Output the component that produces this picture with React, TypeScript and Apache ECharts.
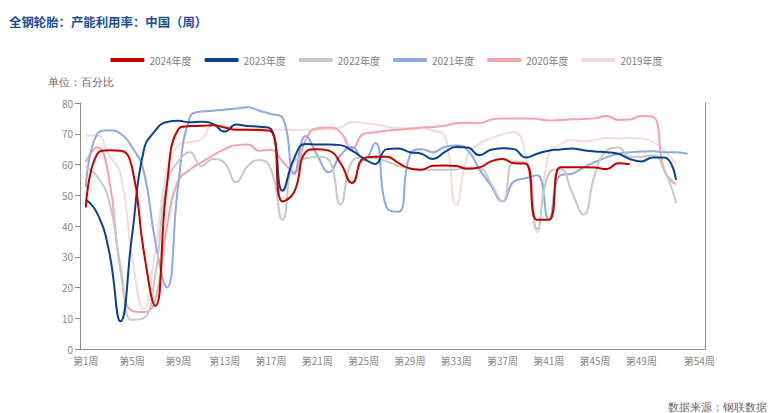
import React, { useEffect, useRef } from 'react';
import * as echarts from 'echarts';

const titleText = '全钢轮胎：产能利用率：中国（周）';
const unitText = '单位：百分比';
const sourceText = '数据来源：钢联数据';

const weeks: string[] = Array.from({ length: 54 }, (_, i) => `第${i + 1}周`);

const s2024 = [46, 63.5, 64.6, 64.5, 59, 32, 14, 53, 71.5, 72.5,
  72.6, 72.8, 72, 71.3, 71.3, 71.2, 70.8, 48, 51, 64,
  65, 64.5, 60.5, 54, 62, 62.5, 62.5, 60.5, 58.7, 58.3,
  59.6, 59.7, 59.5, 58.6, 59, 61, 61.8, 60.4, 60.3, 42,
  42, 59.1, 59.1, 59.1, 59, 58.5, 60.4, 60.1];

const s2023 = [48.6, 44, 32, 9, 37, 64.5, 71, 73.8, 74.2, 73.7,
  73.9, 73.2, 70.7, 73, 72.5, 72.3, 71.5, 51.5, 62, 66.7,
  66.5, 66.5, 66.3, 64.5, 62, 60.2, 65, 65.2, 64, 63.5,
  61.8, 64, 65.7, 65.5, 63, 64.8, 65.3, 65, 62.3, 63.5,
  64.5, 64.9, 65.2, 64.6, 64.2, 64, 63.5, 61.8, 61, 62.3,
  62.3, 55];

const s2022 = [59.2, 56, 48.3, 27, 9.5, 10, 24, 54, 61, 64,
  59.5, 61.8, 60.5, 54.3, 59.5, 61.5, 58.5, 42, 61, 62,
  62.5, 61.5, 47, 61, 62.3, 62, 61, 59.6, 58.7, 58.4,
  58.3, 58.3, 58.4, 59, 58.8, 54, 48, 61, 60.5, 39,
  57, 58.5, 51, 43.7, 57, 64.5, 65.5, 62.5, 62.5, 63,
  58, 47.5];

const s2021 = [52.6, 70, 71.1, 70, 65.6, 58, 35, 20, 53.7, 75.4,
  77.2, 77.5, 77.8, 78.2, 78.6, 77.5, 76.4, 75.2, 57, 69.3,
  63, 57.5, 63, 65.7, 61.3, 67, 46, 44.6, 63, 65,
  64, 65.7, 66.2, 64.6, 58.5, 53.2, 48, 54.5, 55.5, 56.5,
  42, 56.5, 57, 59, 60.8, 62.3, 63.5, 64, 64.2, 64.3,
  64, 64, 63.5];

const s2020 = [60.8, 65.6, 55.5, 25.6, 12.4, 12, 16, 39.5, 54.8, 58.3,
  60.8, 63, 65, 66.3, 66.5, 64.5, 64.8, 61, 57.5, 68,
  71.8, 72, 70.5, 65, 70, 70.5, 71, 71.3, 71.6, 72,
  72.2, 72.6, 73.4, 73.6, 73.4, 74.6, 75, 75, 75, 74.8,
  74.3, 74.5, 74.7, 74.8, 75, 75.8, 74.5, 74.6, 75.8, 75.5,
  58, 53.5];

const s2019 = [69.4, 69.4, 63, 57, 30, 13, 32, 58, 66.2, 67.3,
  68.2, 72.8, 72.3, 71.8, 71.5, 71.5, 71.4, 71.3, 71.3, 71.3,
  71.3, 71.5, 72, 73.8, 73.5, 73, 72.3, 71.8, 71.8, 71.8,
  71, 69.5, 46.7, 63, 66.8, 68.5, 69.8, 70.5, 63, 38,
  63.5, 66.5, 68, 67.5, 68, 68.6, 68.4, 68.6, 68.4, 67.3,
  64.6, 60.2];

const seriesNames = ['2024年度', '2023年度', '2022年度', '2021年度', '2020年度', '2019年度'];
const seriesData = [s2024, s2023, s2022, s2021, s2020, s2019];
const seriesColors = ['#C00000', '#0E3F8C', '#C8C8C8', '#8FAADC', '#F4A3AB', '#F2DCDB'];

export default function App() {
  const ref = useRef<HTMLDivElement>(null);
  useEffect(() => {
    document.body.style.margin = '0';
    const chart = echarts.init(ref.current as HTMLDivElement, undefined, { renderer: 'svg' });
    const axisColor = '#8c8c8c';
    const series = seriesNames.map((name, i) => ({
      name,
      type: 'line',
      data: seriesData[i],
      smooth: 0.5,
      showSymbol: false,
      symbol: 'none',
      lineStyle: { width: 2, color: seriesColors[i] },
      itemStyle: { color: seriesColors[i] },
      z: 10 - i,
    })).reverse();
    chart.setOption({
      animation: false,
      backgroundColor: '#ffffff',
      textStyle: { fontFamily: '"Noto Sans CJK SC", "Liberation Sans", sans-serif' },
      title: {
        text: titleText,
        left: 4,
        top: 11,
        textStyle: { fontSize: 12.4, fontWeight: 'bold', color: '#1F4E8F' },
      },
      legend: {
        data: seriesNames,
        top: 50,
        left: 'center',
        icon: 'roundRect',
        itemWidth: 34,
        itemHeight: 4,
        itemGap: 13,
        textStyle: { fontSize: 10, color: '#808080' },
      },
      grid: { left: 80, right: 68, top: 103, bottom: 64 },
      xAxis: {
        type: 'category',
        data: weeks,
        boundaryGap: true,
        axisLine: { lineStyle: { color: axisColor } },
        axisTick: {
          interval: (i: number) => i % 4 === 0 || i === 52,
          length: 5,
          lineStyle: { color: axisColor },
        },
        axisLabel: {
          interval: (i: number) => (i % 4 === 0 && i <= 48) || i === 53,
          color: '#888',
          fontSize: 10,
          margin: 6,
        },
      },
      yAxis: [
        {
          type: 'value',
          min: 0,
          max: 80,
          interval: 10,
          axisLine: { show: true, lineStyle: { color: axisColor } },
          axisTick: { show: true, length: 5, lineStyle: { color: axisColor } },
          splitLine: { show: false },
          axisLabel: { color: '#888', fontSize: 10, margin: 7 },
        },
        {
          type: 'value',
          position: 'right',
          min: 0,
          max: 80,
          interval: 10,
          axisLine: { show: true, lineStyle: { color: axisColor } },
          axisTick: { show: false },
          splitLine: { show: false },
          axisLabel: { show: false },
        },
      ],
      graphic: [
        {
          type: 'text',
          left: 48,
          top: 76,
          style: { text: unitText, fontSize: 10.5, fill: '#666' },
        },
        {
          type: 'text',
          right: 6,
          top: 401,
          style: { text: sourceText, fontSize: 10.5, fill: '#666' },
        },
      ],
      series,
    });
    return () => chart.dispose();
  }, []);
  return <div ref={ref} style={{ position: 'absolute', left: 0, top: 0, width: 773, height: 413 }} />;
}
